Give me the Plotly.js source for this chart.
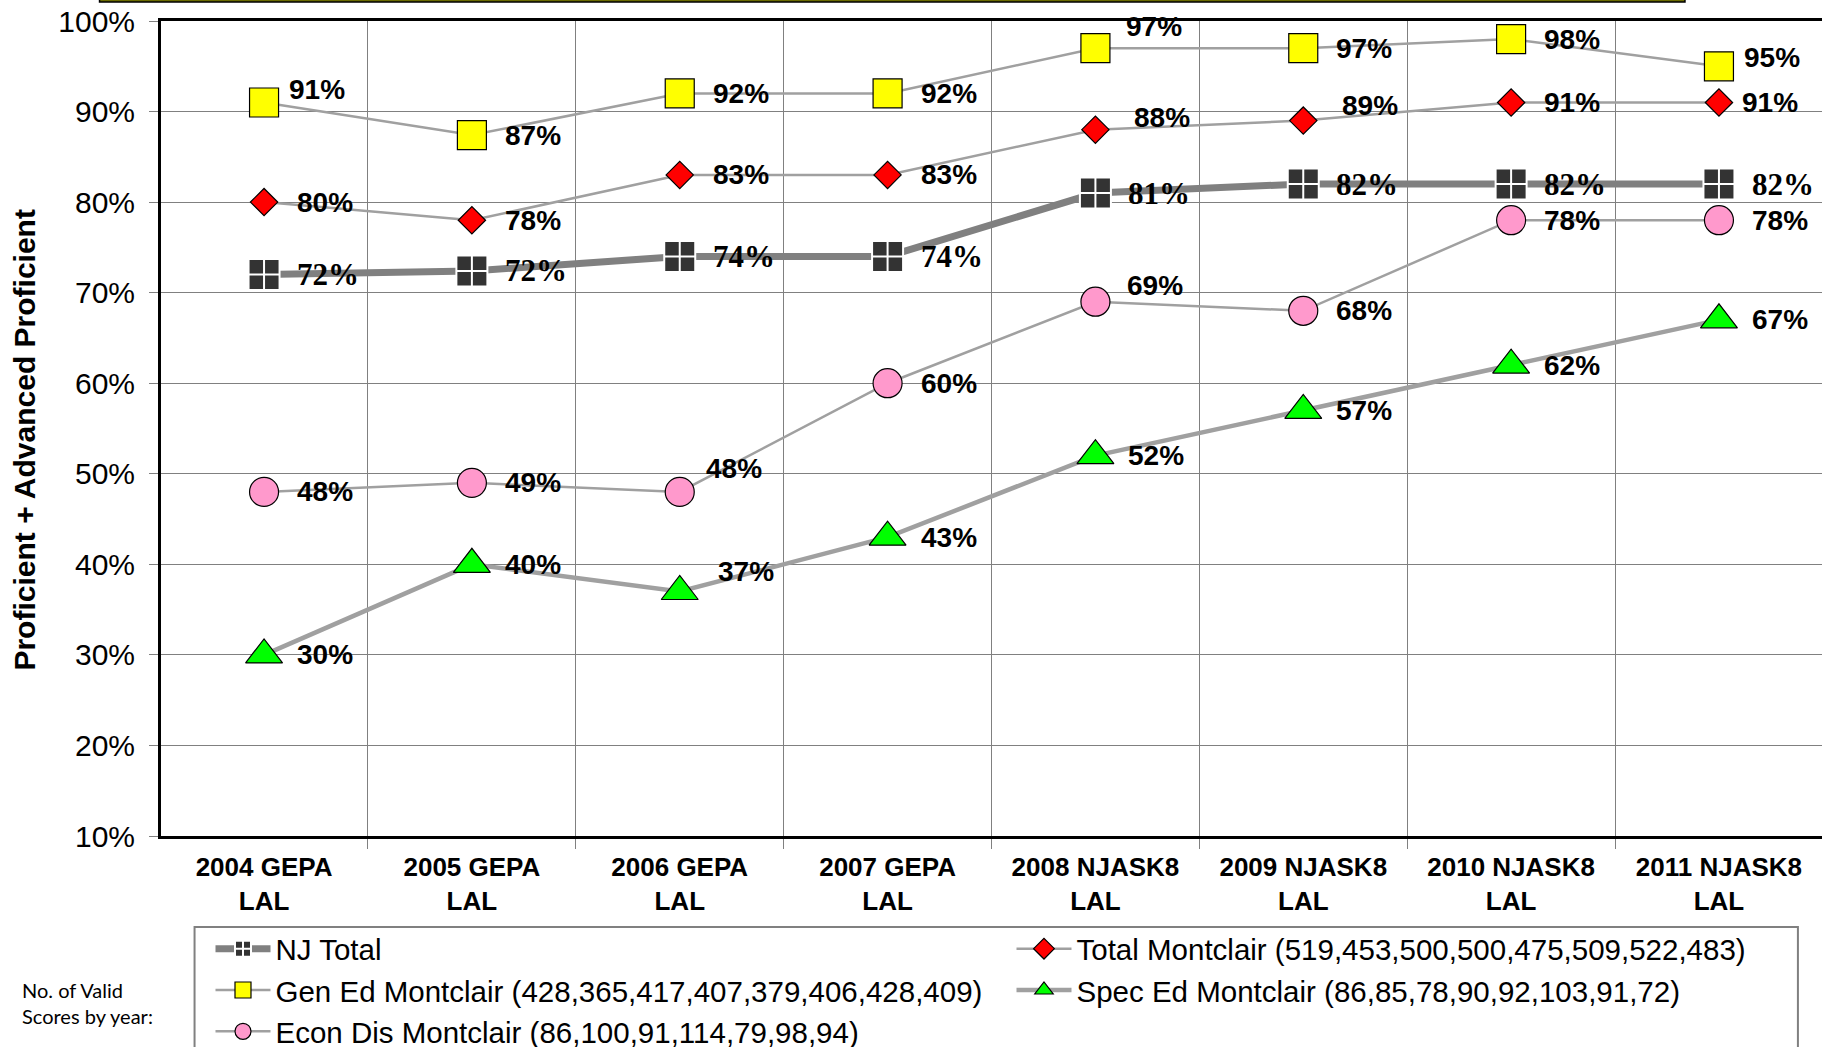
<!DOCTYPE html>
<html>
<head>
<meta charset="utf-8">
<script src="https://cdn.plot.ly/plotly-3.0.1.min.js"></script>
<style>html,body{margin:0;padding:0;background:#fff;}#chart{width:1822px;height:1047px;}</style>
</head>
<body>
<div id="chart"></div>
<script>
// ---- data ----
const categories = ['2004 GEPA<br>LAL','2005 GEPA<br>LAL','2006 GEPA<br>LAL','2007 GEPA<br>LAL',
                    '2008 NJASK8<br>LAL','2009 NJASK8<br>LAL','2010 NJASK8<br>LAL','2011 NJASK8<br>LAL'];
const njTotal        = [72, 72.4, 74, 74, 81, 82, 82, 82];
const totalMontclair = [80, 78, 83, 83, 88, 89, 91, 91];
const genEd          = [91, 87.4, 92, 92, 97, 97, 98, 95];
const specEd         = [30, 40, 37, 43, 52, 57, 62, 67];
const econDis        = [48, 49, 48, 60, 69, 68, 78, 78];
const seriesNames = ['NJ Total',
  'Total Montclair (519,453,500,500,475,509,522,483)',
  'Gen Ed Montclair (428,365,417,407,379,406,428,409)',
  'Spec Ed Montclair (86,85,78,90,92,103,91,72)',
  'Econ Dis Montclair (86,100,91,114,79,98,94)'];
const yTitle = 'Proficient + Advanced Proficient';
const noteText = 'No. of Valid<br>Scores by year:';

// ---- label nudges (px) : [dx, dy] per point, style only ----
const nudgeNJ    = [[31,0],[31,0],[31,0],[31,0],[31,0],[31,0],[31,0],[31,0]];
const nudgeTotal = [[31,0],[31,0],[31,0],[31,0],[37,12],[37,15],[31,0],[21,0]];
const nudgeGen   = [[23,13],[31,0],[31,0],[31,0],[29,22],[31,0],[31,0],[23,9]];
const nudgeSpec  = [[31,0],[31,0],[36,20],[31,0],[31,0],[31,0],[31,0],[31,0]];
const nudgeEcon  = [[31,0],[31,0],[24,23],[31,0],[30,16],[31,0],[31,0],[31,0]];

const SANS = 'Liberation Sans, Arial, sans-serif';
const SERIF = 'Liberation Serif, Times New Roman, serif';

const traces = [
  {name: seriesNames[0], x: categories, y: njTotal, mode: 'lines+markers',
   line: {color: '#808080', width: 7},
   marker: {symbol: 'square-cross', size: 31, color: '#333333', line: {color: '#ffffff', width: 2}}},
  {name: seriesNames[1], x: categories, y: totalMontclair, mode: 'lines+markers',
   line: {color: '#a0a0a0', width: 2.5},
   marker: {symbol: 'diamond', size: 21, color: '#ff0000', line: {color: '#000000', width: 1.2}}},
  {name: seriesNames[2], x: categories, y: genEd, mode: 'lines+markers',
   line: {color: '#a0a0a0', width: 2.5},
   marker: {symbol: 'square', size: 29, color: '#ffff00', line: {color: '#000000', width: 1.2}}},
  {name: seriesNames[3], x: categories, y: specEd, mode: 'lines+markers',
   line: {color: '#a0a0a0', width: 4.5},
   marker: {symbol: 'triangle-up', size: 32, color: '#00ff00', line: {color: '#000000', width: 1.2}}},
  {name: seriesNames[4], x: categories, y: econDis, mode: 'lines+markers',
   line: {color: '#a0a0a0', width: 2.5},
   marker: {symbol: 'circle', size: 29, color: '#ff99cc', line: {color: '#000000', width: 1.2}}}
];
traces.forEach(t => { t.type = 'scatter'; t.cliponaxis = false; });

const annotations = [];
function addLabels(vals, nudges, font) {
  vals.forEach((v, i) => {
    annotations.push({x: categories[i], y: v, xref: 'x', yref: 'y', text: Math.round(v) + '%',
      showarrow: false, xanchor: 'left', yanchor: 'middle',
      xshift: nudges[i][0], yshift: nudges[i][1], font: font});
  });
}
const labelFont = {family: SANS, size: 28, color: '#000', weight: 'bold'};
addLabels(genEd, nudgeGen, labelFont);
addLabels(totalMontclair, nudgeTotal, labelFont);
addLabels(njTotal, nudgeNJ, {family: SERIF, size: 31, color: '#000', weight: 'bold'});
addLabels(econDis, nudgeEcon, labelFont);
addLabels(specEd, nudgeSpec, labelFont);

annotations.push({xref: 'paper', yref: 'paper', x: -0.0822, y: 0.487, text: yTitle, textangle: -90,
  showarrow: false, xanchor: 'center', yanchor: 'middle',
  font: {family: SANS, size: 30, color: '#000', weight: 'bold'}});
annotations.push({xref: 'paper', yref: 'paper', x: -0.0846, y: -0.2055, text: noteText,
  showarrow: false, xanchor: 'left', yanchor: 'middle', align: 'left',
  font: {family: 'Lato, Open Sans, sans-serif', size: 20, color: '#000'}});

const layout = {
  width: 1822, height: 1047,
  margin: {l: 161, r: 0, t: 21, b: 211, pad: 0, autoexpand: false},
  paper_bgcolor: '#ffffff', plot_bgcolor: '#ffffff',
  showlegend: true,
  xaxis: {type: 'category', tickson: 'boundaries', showgrid: true, gridcolor: '#808080', gridwidth: 1,
    showline: true, linecolor: '#000000', linewidth: 3, mirror: true,
    ticks: 'outside', ticklen: 10, tickcolor: '#808080', tickwidth: 1, ticklabelstandoff: 6,
    tickfont: {family: SANS, size: 26, color: '#000', weight: 'bold'}, fixedrange: true, automargin: false},
  yaxis: {range: [10, 100], dtick: 10, tick0: 10, ticksuffix: '%', showgrid: true, gridcolor: '#808080', gridwidth: 1,
    zeroline: false, showline: true, linecolor: '#000000', linewidth: 3,
    ticks: 'outside', ticklen: 9, tickcolor: '#808080', tickwidth: 1, ticklabelstandoff: 8,
    tickfont: {family: SANS, size: 30, color: '#000'}, fixedrange: true, automargin: false},
  legend: {orientation: 'h', x: 0.0298, y: -0.1067, xanchor: 'left', yanchor: 'top',
    entrywidth: 731, entrywidthmode: 'pixels', itemwidth: 55,
    borderwidth: 0, bgcolor: 'rgba(0,0,0,0)',
    font: {family: SANS, size: 29.5, color: '#000'}, traceorder: 'normal'},
  shapes: [
    {type: 'rect', xref: 'paper', yref: 'paper', x0: -0.037, x1: 0.9175, y0: 1.0233, y1: 1.2,
     fillcolor: '#6b6b00', line: {color: '#000000', width: 1.5}, layer: 'above'},
    {type: 'rect', xref: 'paper', yref: 'paper', x0: 0.0202, x1: 0.9855, y0: -0.1117, y1: -0.28,
     fillcolor: 'rgba(0,0,0,0)', line: {color: '#808080', width: 2}, layer: 'below'}
  ],
  annotations: annotations
};

Plotly.newPlot('chart', traces, layout, {displayModeBar: false, staticPlot: true});
</script>
</body>
</html>
